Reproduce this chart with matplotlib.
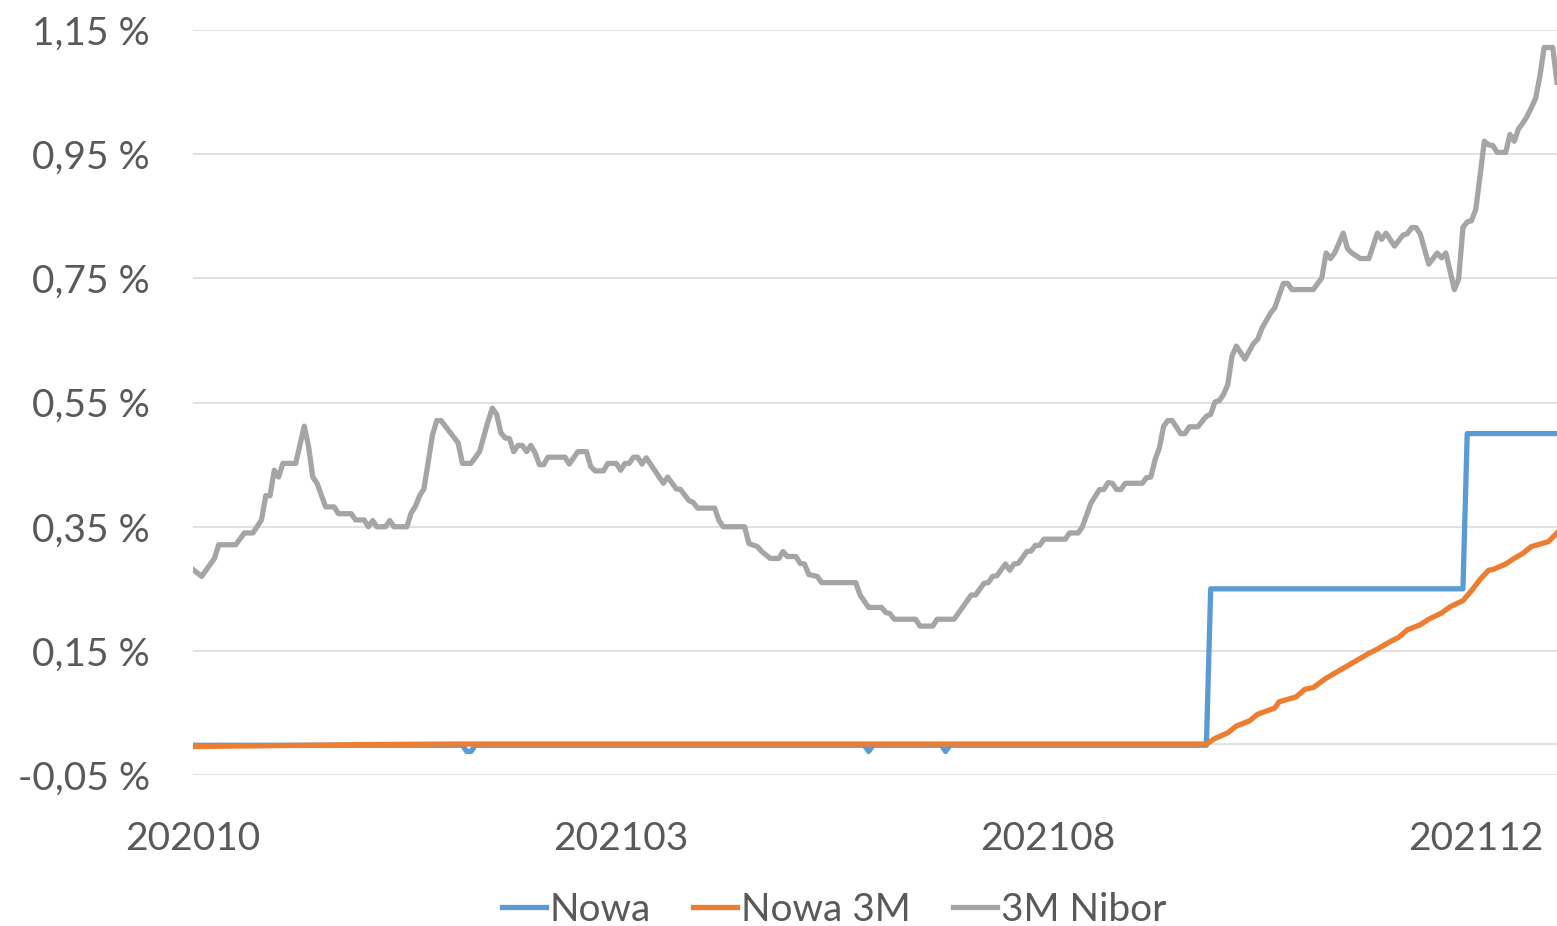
"""Nowa / Nowa 3M vs 3M Nibor, daily, Oct 2020 - Jan 2022.

Excel-style line chart: x is a trading-day index (category axis),
labelled with the YYYYMM of every 100th observation.
"""

from __future__ import annotations

import matplotlib

matplotlib.use("Agg")
import matplotlib.pyplot as plt  # noqa: E402
from matplotlib.ticker import FuncFormatter  # noqa: E402

# --------------------------------------------------------------------------- #
# Data (percent). Series are given as (day index, value) break points read
# off the original chart; the day index runs 0..319.
# --------------------------------------------------------------------------- #
N_DAYS = 320
X_TICK_POS = [0, 100, 200, 300]
X_TICK_LABELS = ["202010", "202103", "202108", "202112"]
Y_TICKS = [-0.05, 0.15, 0.35, 0.55, 0.75, 0.95, 1.15]

nibor_day = [
    0, 2, 5, 6, 10, 12, 14, 16, 17, 18, 19, 20, 21, 24, 26, 27, 28, 29, 31, 33,
    34, 37, 38, 40, 41, 42, 43, 45, 46, 47, 50, 51, 52, 53, 54, 56, 57, 58, 62,
    63, 65, 67, 69, 70, 71, 72, 73, 74, 75, 76, 77, 78, 79, 80, 81, 82, 83, 87,
    88, 90, 92, 93, 94, 96, 97, 99, 100, 101, 102, 103, 104, 105, 106, 110, 111,
    113, 114, 116, 117, 118, 122, 123, 124, 129, 130, 132, 133, 135, 137, 138,
    139, 141, 142, 143, 144, 146, 147, 155, 156, 158, 161, 162, 163, 164, 169,
    170, 173, 174, 178, 182, 183, 185, 186, 187, 188, 190, 191, 192, 193, 195,
    196, 197, 198, 199, 204, 205, 207, 208, 210, 212, 213, 214, 215, 216, 217,
    218, 222, 223, 224, 225, 226, 227, 228, 229, 231, 232, 233, 235, 237, 238,
    239, 240, 241, 242, 243, 244, 246, 248, 249, 250, 252, 253, 255, 256, 257,
    262, 264, 265, 266, 267, 269, 270, 271, 273, 275, 277, 278, 279, 281, 283,
    284, 285, 286, 287, 289, 291, 292, 293, 295, 296, 297, 298, 299, 300, 301,
    302, 303, 304, 305, 307, 308, 309, 310, 311, 312, 313, 314, 315, 316, 318,
    319,
]
nibor_val = [
    0.281, 0.270, 0.299, 0.321, 0.321, 0.340, 0.340, 0.361, 0.400, 0.400, 0.441,
    0.430, 0.452, 0.452, 0.512, 0.480, 0.430, 0.420, 0.382, 0.382, 0.371, 0.371,
    0.361, 0.361, 0.350, 0.360, 0.350, 0.350, 0.360, 0.350, 0.350, 0.372, 0.383,
    0.400, 0.411, 0.498, 0.521, 0.521, 0.485, 0.452, 0.452, 0.471, 0.520, 0.541,
    0.531, 0.501, 0.493, 0.492, 0.471, 0.481, 0.481, 0.471, 0.481, 0.469, 0.450,
    0.450, 0.462, 0.462, 0.451, 0.471, 0.471, 0.447, 0.440, 0.440, 0.452, 0.452,
    0.441, 0.452, 0.452, 0.462, 0.462, 0.451, 0.461, 0.420, 0.430, 0.411, 0.410,
    0.392, 0.389, 0.380, 0.380, 0.360, 0.350, 0.350, 0.323, 0.318, 0.310, 0.299,
    0.299, 0.310, 0.302, 0.302, 0.291, 0.290, 0.273, 0.270, 0.260, 0.260, 0.240,
    0.220, 0.220, 0.212, 0.210, 0.201, 0.201, 0.190, 0.190, 0.201, 0.201, 0.240,
    0.240, 0.259, 0.260, 0.270, 0.271, 0.290, 0.280, 0.290, 0.291, 0.310, 0.311,
    0.320, 0.320, 0.330, 0.330, 0.340, 0.340, 0.350, 0.388, 0.410, 0.410, 0.421,
    0.420, 0.410, 0.410, 0.420, 0.420, 0.429, 0.430, 0.458, 0.477, 0.512, 0.521,
    0.521, 0.500, 0.500, 0.511, 0.511, 0.528, 0.531, 0.551, 0.553, 0.563, 0.579,
    0.625, 0.641, 0.620, 0.645, 0.652, 0.670, 0.694, 0.703, 0.742, 0.742, 0.732,
    0.732, 0.751, 0.791, 0.782, 0.791, 0.823, 0.798, 0.791, 0.782, 0.782, 0.823,
    0.813, 0.823, 0.802, 0.820, 0.822, 0.832, 0.832, 0.822, 0.773, 0.791, 0.783,
    0.791, 0.732, 0.749, 0.832, 0.841, 0.843, 0.861, 0.915, 0.971, 0.965, 0.964,
    0.953, 0.953, 0.982, 0.971, 0.991, 1.000, 1.011, 1.025, 1.040, 1.076, 1.122,
    1.122, 1.066,
]

nowa_day = [0, 63, 64, 65, 66, 157, 158, 159, 175, 176, 177, 237, 238, 297, 298, 319]
nowa_val = [
    -0.002, -0.002, -0.012, -0.012, -0.002, -0.002, -0.012, -0.002, -0.002,
    -0.012, -0.002, -0.002, 0.250, 0.250, 0.500, 0.500,
]

nowa3m_day = [
    0, 40, 60, 237, 239, 242, 244, 247, 249, 253, 254, 258, 260, 262, 265, 267,
    270, 272, 275, 277, 280, 282, 284, 287, 289, 292, 294, 297, 299, 301, 303,
    304, 307, 309, 311, 313, 317, 319,
]
nowa3m_val = [
    -0.004, -0.001, 0.000, 0.000, 0.009, 0.018, 0.029, 0.037, 0.048, 0.058,
    0.068, 0.076, 0.088, 0.091, 0.106, 0.114, 0.126, 0.134, 0.146, 0.153, 0.165,
    0.172, 0.184, 0.192, 0.201, 0.211, 0.221, 0.231, 0.247, 0.265, 0.280, 0.281,
    0.290, 0.299, 0.307, 0.318, 0.326, 0.340,
]

# Excel "Office" palette.
_COLORS = {"Nowa": "#5B9BD5", "Nowa 3M": "#ED7D31", "3M Nibor": "#A5A5A5"}
_TEXT = "#595959"
_GRID = "#D9D9D9"
_FONT = ["Lato", "DejaVu Sans"]
_FS = 28


def _pct(v: float, _pos=None) -> str:
    return f"{v:.2f}".replace(".", ",") + " %"


def main() -> None:
    plt.rcParams["font.family"] = _FONT
    fig = plt.figure(figsize=(15.57, 9.26), dpi=100)
    ax = fig.add_axes([0.124, 0.163, 0.876, 0.8045])

    lw = 3.8
    ax.plot(nowa_day, nowa_val, color=_COLORS["Nowa"], lw=lw, label="Nowa",
            solid_joinstyle="round", zorder=3)
    ax.plot(nowa3m_day, nowa3m_val, color=_COLORS["Nowa 3M"], lw=lw,
            label="Nowa 3M", solid_joinstyle="round", zorder=4)
    ax.plot(nibor_day, nibor_val, color=_COLORS["3M Nibor"], lw=lw,
            label="3M Nibor", solid_joinstyle="round", zorder=5)

    ax.set_xlim(0, N_DAYS - 1)
    ax.set_ylim(Y_TICKS[0], Y_TICKS[-1])
    ax.set_yticks(Y_TICKS)
    ax.yaxis.set_major_formatter(FuncFormatter(_pct))
    ax.set_xticks(X_TICK_POS)
    ax.set_xticklabels(X_TICK_LABELS)

    ax.grid(axis="y", color=_GRID, lw=1.1, zorder=0)
    ax.axhline(0, color=_GRID, lw=1.1, zorder=1)
    for s in ax.spines.values():
        s.set_visible(False)
    ax.tick_params(axis="both", length=0, labelsize=_FS, colors=_TEXT)
    ax.tick_params(axis="y", pad=31)
    ax.tick_params(axis="x", pad=33)

    leg = fig.legend(
        *ax.get_legend_handles_labels(),
        loc="center",
        bbox_to_anchor=(0.5357, 0.0175),
        ncol=3,
        frameon=False,
        fontsize=_FS,
        handlelength=1.12,
        handletextpad=0.1,
        columnspacing=1.1,
        borderpad=0.0,
    )
    for t in leg.get_texts():
        t.set_color(_TEXT)

    fig.savefig("out.png", dpi=100)
    plt.close(fig)


if __name__ == "__main__":
    main()
